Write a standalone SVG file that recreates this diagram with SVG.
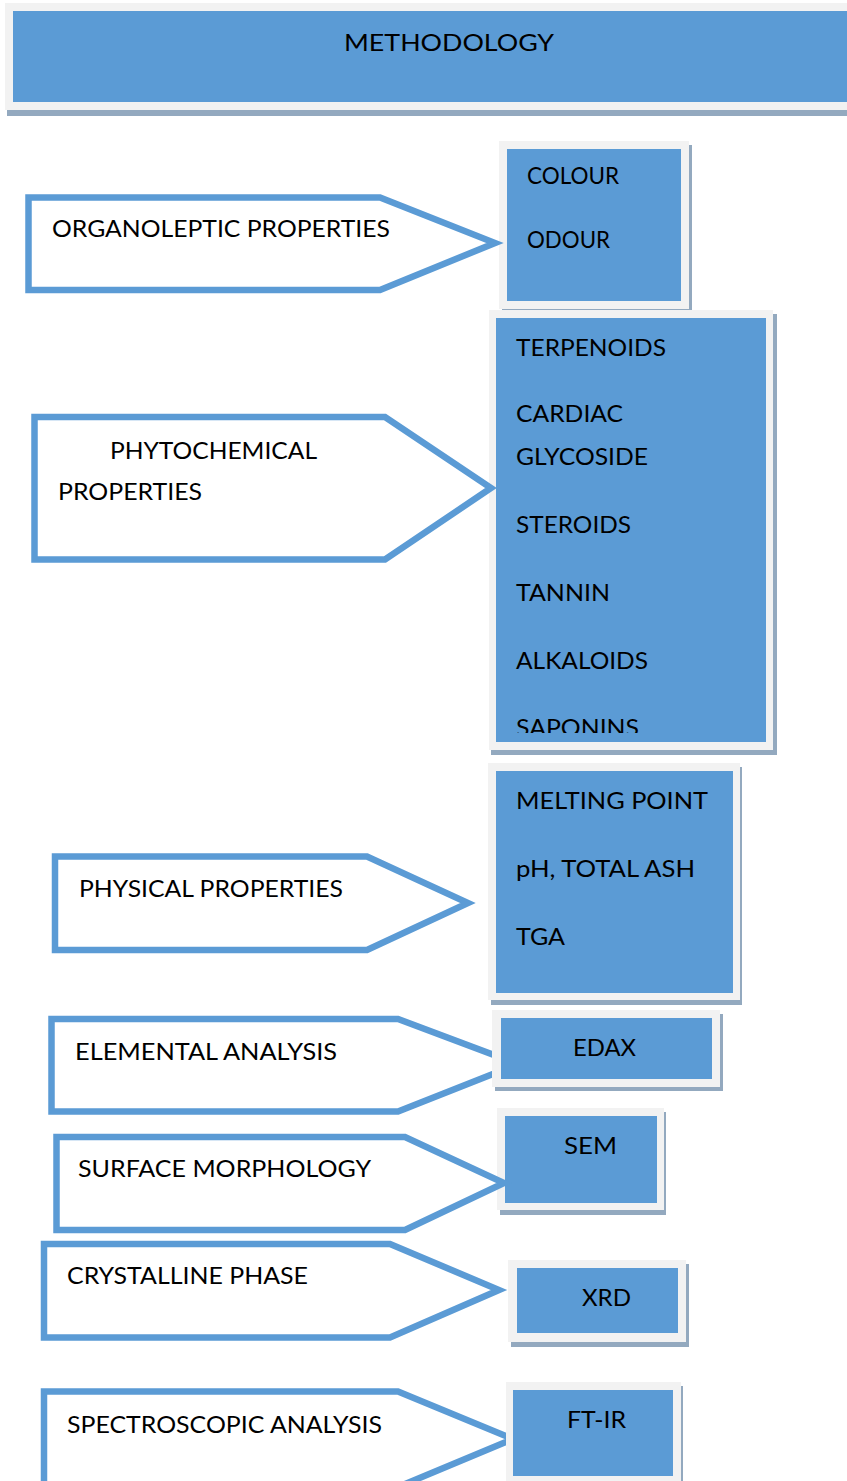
<svg xmlns="http://www.w3.org/2000/svg" width="847" height="1481" viewBox="0 0 847 1481">
<defs>
<style>
.frame{fill:#f2f2f2}
.blue{fill:#5b9bd5}
.shadow{fill:#93a9bf}
.arrow{fill:#ffffff;stroke:#5b9bd5;stroke-width:6.5;stroke-linejoin:miter}
text{font-family:"Lato","Open Sans","Liberation Sans",sans-serif;font-size:24px;fill:#000000}
</style>
<clipPath id="clipPhyto"><rect x="496" y="318" width="270" height="415"/></clipPath>
</defs>
<rect width="847" height="1481" fill="#ffffff"/>

<g id="header">
<rect class="shadow" x="7" y="8" width="840" height="108"/>
<rect class="frame" x="5" y="3" width="842" height="107"/>
<rect class="blue" x="13" y="11" width="834" height="91"/>
<text x="344" y="51" textLength="210" lengthAdjust="spacingAndGlyphs">METHODOLOGY</text>
</g>

<g id="connectors"></g>

<g id="elemental">
<polygon class="arrow" points="51.5,1019 398,1019 518,1064 398,1111.5 51.5,1111.5"/>
<text x="75" y="1060" textLength="262" lengthAdjust="spacingAndGlyphs">ELEMENTAL ANALYSIS</text>
</g>
<g id="spectroscopic">
<polygon class="arrow" points="44,1391.5 398,1391.5 513,1439 398,1487 44,1487"/>
<text x="67" y="1433" textLength="315" lengthAdjust="spacingAndGlyphs">SPECTROSCOPIC ANALYSIS</text>
</g>

<g id="box-organoleptic">
<rect class="shadow" x="502" y="145" width="190" height="168"/>
<rect class="frame" x="499" y="141" width="190" height="168"/>
<rect class="blue" x="507" y="149" width="174" height="152"/>
<text x="527" y="184" textLength="92" lengthAdjust="spacingAndGlyphs">COLOUR</text>
<text x="527" y="248" textLength="83" lengthAdjust="spacingAndGlyphs">ODOUR</text>
</g>

<g id="box-phytochemical">
<rect class="shadow" x="491" y="314" width="286" height="441"/>
<rect class="frame" x="489" y="310" width="284" height="440"/>
<rect class="blue" x="496" y="318" width="270" height="424"/>
<g clip-path="url(#clipPhyto)">
<text x="516" y="356" textLength="150" lengthAdjust="spacingAndGlyphs">TERPENOIDS</text>
<text x="516" y="422" textLength="107" lengthAdjust="spacingAndGlyphs">CARDIAC</text>
<text x="516" y="465" textLength="132" lengthAdjust="spacingAndGlyphs">GLYCOSIDE</text>
<text x="516" y="533" textLength="115" lengthAdjust="spacingAndGlyphs">STEROIDS</text>
<text x="516" y="601" textLength="94" lengthAdjust="spacingAndGlyphs">TANNIN</text>
<text x="516" y="669" textLength="132" lengthAdjust="spacingAndGlyphs">ALKALOIDS</text>
<text x="516" y="736" textLength="123" lengthAdjust="spacingAndGlyphs">SAPONINS</text>
</g>
</g>

<g id="box-physical">
<rect class="shadow" x="491" y="767" width="251" height="238"/>
<rect class="frame" x="488" y="763" width="252" height="237"/>
<rect class="blue" x="496" y="771" width="237" height="222"/>
<text x="516" y="809" textLength="192" lengthAdjust="spacingAndGlyphs">MELTING POINT</text>
<text x="516" y="877" textLength="179" lengthAdjust="spacingAndGlyphs">pH, TOTAL ASH</text>
<text x="516" y="945" textLength="49" lengthAdjust="spacingAndGlyphs">TGA</text>
</g>

<g id="box-edax">
<rect class="shadow" x="495" y="1014" width="228" height="77"/>
<rect class="frame" x="492" y="1010" width="228" height="77"/>
<rect class="blue" x="501" y="1018" width="211" height="61"/>
<text x="573" y="1056" textLength="63" lengthAdjust="spacingAndGlyphs">EDAX</text>
</g>

<g id="box-sem">
<rect class="shadow" x="500" y="1112" width="166" height="103"/>
<rect class="frame" x="497" y="1108" width="167" height="102"/>
<rect class="blue" x="505" y="1116" width="152" height="87"/>
<text x="564" y="1154" textLength="53" lengthAdjust="spacingAndGlyphs">SEM</text>
</g>

<g id="box-xrd">
<rect class="shadow" x="511" y="1264" width="178" height="83"/>
<rect class="frame" x="508" y="1260" width="178" height="82"/>
<rect class="blue" x="517" y="1268" width="161" height="65"/>
<text x="582" y="1306" textLength="49" lengthAdjust="spacingAndGlyphs">XRD</text>
</g>

<g id="box-ftir">
<rect class="shadow" x="509" y="1386" width="174" height="100"/>
<rect class="frame" x="506" y="1382" width="175" height="100"/>
<rect class="blue" x="513" y="1390" width="160" height="86"/>
<text x="567" y="1428" textLength="59" lengthAdjust="spacingAndGlyphs">FT-IR</text>
</g>

<g id="organoleptic">
<polygon class="arrow" points="28.5,197.5 380,197.5 495,243 380,290 28.5,290"/>
<text x="52" y="237" textLength="338" lengthAdjust="spacingAndGlyphs">ORGANOLEPTIC PROPERTIES</text>
</g>
<g id="phytochemical">
<polygon class="arrow" points="34.5,417 385,417 491,488 385,559.5 34.5,559.5"/>
<text x="110" y="459" textLength="207" lengthAdjust="spacingAndGlyphs">PHYTOCHEMICAL</text>
<text x="58" y="500" textLength="144" lengthAdjust="spacingAndGlyphs">PROPERTIES</text>
</g>
<g id="physical">
<polygon class="arrow" points="55,856.5 367,856.5 468,903 367,950 55,950"/>
<text x="79" y="897" textLength="264" lengthAdjust="spacingAndGlyphs">PHYSICAL PROPERTIES</text>
</g>
<g id="surface">
<polygon class="arrow" points="56.5,1137 405,1137 504,1183 405,1230 56.5,1230"/>
<text x="78" y="1177" textLength="293" lengthAdjust="spacingAndGlyphs">SURFACE MORPHOLOGY</text>
</g>
<g id="crystalline">
<polygon class="arrow" points="44,1244 390,1244 499,1290 390,1337.5 44,1337.5"/>
<text x="67" y="1284" textLength="241" lengthAdjust="spacingAndGlyphs">CRYSTALLINE PHASE</text>
</g>
</svg>
